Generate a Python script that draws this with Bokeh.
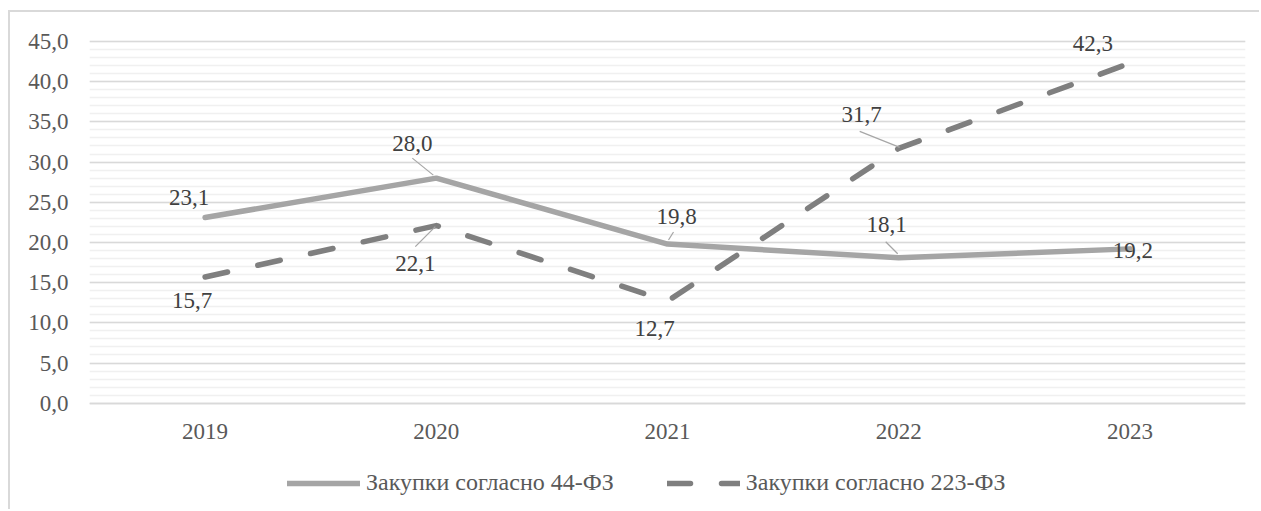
from bokeh.plotting import figure
from bokeh.models import ColumnDataSource, Range1d, FixedTicker, Legend, LegendItem
from bokeh.core.properties import value
from bokeh.embed import file_html
from bokeh.resources import INLINE

# ---- data ----
years = ["2019", "2020", "2021", "2022", "2023"]
v44 = [23.1, 28.0, 19.8, 18.1, 19.2]
v223 = [15.7, 22.1, 12.7, 31.7, 42.3]
y_ticks = [0, 5, 10, 15, 20, 25, 30, 35, 40, 45]
y_tick_labels = ["0,0", "5,0", "10,0", "15,0", "20,0", "25,0", "30,0", "35,0", "40,0", "45,0"]
name44 = "Закупки согласно 44-ФЗ"
name223 = "Закупки согласно 223-ФЗ"

# ---- label placement (screen px offsets from the point) ----
off44_x = [-16, -24, 9, -12, 3]
off44_y = [-20, -35, -28, -33, 2]
off223_x = [-13, -21, -13, -37, -37]
off223_y = [23, 38, 27, -34, -20]
# leader lines: (start dx, start dy, end dx, end dy) in px; None = no leader
lead44 = [None, (-24, -20, -3, -3), (6, -12, 1, -4), (-13, -16, -1, -4), None]
lead223 = [None, (-21, 21, -1, 1), None, (-39, -17, 1, -1), None]

# ---- layout (page px) ----
MX, MY = 10, 12                 # figure offset on page (outer border drawn just outside)
W, H = 1261 - MX, 511 - MY
FL, FR = 89, 1245               # plot area left/right on page
TOP45 = 41                      # page y of value 45
ZERO = 402.7                    # page y of value 0
FRAME_TOP = 14                  # frame extends above 45 so labels are not clipped
ppx = (FR - FL) / 5.0
ppy = (ZERO - TOP45) / 45.0
y_start = -(511 - ZERO) / ppy
y_end = 45 + (TOP45 - FRAME_TOP) / ppy

FONT = "Liberation Serif"

p = figure(width=W, height=H, x_range=Range1d(-0.5, 4.5), y_range=Range1d(y_start, y_end),
           output_backend="svg", toolbar_location=None,
           min_border_left=FL - MX, min_border_right=1261 - FR, min_border_top=FRAME_TOP - MY,
           min_border_bottom=0, margin=(MY, 0, 0, MX))
p.styles = {"box-shadow": "-2px -2px 0 0 #d9d9d9"}
p.outline_line_color = None
p.background_fill_color = "white"
p.border_fill_color = "white"

idx = list(range(len(years)))

# axes
p.xaxis.ticker = FixedTicker(ticks=idx)
p.xaxis.major_label_overrides = {i: y for i, y in enumerate(years)}
p.xaxis.fixed_location = 0
p.yaxis.ticker = FixedTicker(ticks=y_ticks, minor_ticks=list(range(0, 46)))
p.yaxis.major_label_overrides = {t: l for t, l in zip(y_ticks, y_tick_labels)}
for ax in (p.xaxis[0], p.yaxis[0]):
    ax.major_tick_line_color = None
    ax.minor_tick_line_color = None
    ax.major_tick_out = 0
    ax.major_tick_in = 0
    ax.minor_tick_out = 0
    ax.minor_tick_in = 0
    ax.major_label_text_font = FONT
    ax.major_label_text_font_size = "23px"
    ax.major_label_text_color = "#595959"
p.yaxis.axis_line_color = None
p.yaxis.major_label_standoff = 21
p.xaxis.axis_line_color = "#d9d9d9"
p.xaxis.axis_line_width = 1.5
p.xaxis.major_label_standoff = 21

p.xgrid.grid_line_color = None
p.ygrid.grid_line_color = "#d9d9d9"
p.ygrid.grid_line_width = 1.5
p.ygrid.minor_grid_line_color = "#f0f0f0"
p.ygrid.minor_grid_line_width = 1.5

src44 = ColumnDataSource(dict(x=idx, y=v44))
src223 = ColumnDataSource(dict(x=idx, y=v223))

r44 = p.line("x", "y", source=src44, line_color="#a5a5a5", line_width=5.5,
             line_join="round", line_cap="round")
r223 = p.line("x", "y", source=src223, line_color="#7f7f7f", line_width=5.5,
              line_dash="23 31", line_join="round", line_cap="round")

# leader lines
x0, y0, x1, y1 = [], [], [], []
for vals, leads in ((v44, lead44), (v223, lead223)):
    for i, (v, ld) in enumerate(zip(vals, leads)):
        if ld is None:
            continue
        sx, sy, ex, ey = ld
        x0.append(i + sx / ppx)
        y0.append(v - sy / ppy)
        x1.append(i + ex / ppx)
        y1.append(v - ey / ppy)
p.segment(x0=x0, y0=y0, x1=x1, y1=y1, line_color="#a6a6a6", line_width=1.2)

def fmt(v):
    return f"{v:.1f}".replace(".", ",")

for vals, ox, oy in ((v44, off44_x, off44_y), (v223, off223_x, off223_y)):
    s = ColumnDataSource(dict(x=idx, y=vals, t=[fmt(v) for v in vals], ox=ox, oy=oy))
    p.text("x", "y", text="t", source=s, x_offset="ox", y_offset="oy",
           text_font=value(FONT), text_font_size="23px", text_color="#404040",
           text_align="center", text_baseline="middle")

legend = Legend(items=[LegendItem(label=name44, renderers=[r44]),
                       LegendItem(label=name223, renderers=[r223])],
                orientation="horizontal", location=(287 - FL, 15),
                label_text_font=FONT, label_text_font_size="24px", label_text_color="#595959",
                glyph_width=73, glyph_height=24, label_standoff=6, spacing=53,
                padding=0, margin=0, border_line_color=None, background_fill_alpha=0)
p.add_layout(legend)

open("out.html", "w").write(file_html(p, INLINE))
